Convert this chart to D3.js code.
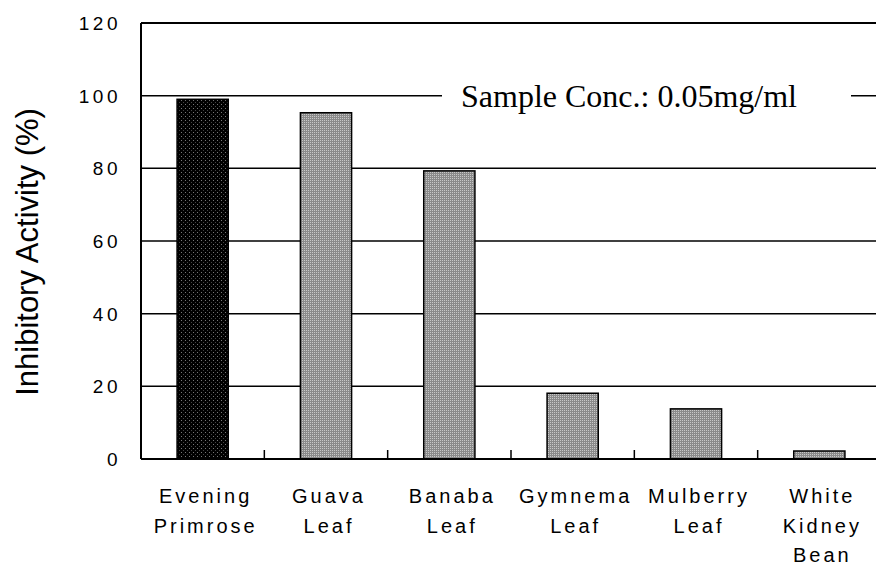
<!DOCTYPE html>
<html>
<head>
    <style>
        body { margin: 0; background: #fff; }
        svg { display: block; }
        .tick-lbl { font-family: 'Liberation Sans', Arial, sans-serif; font-size: 19px; letter-spacing: 3.5px; fill: #000; }
        .cat-lbl { font-family: 'Liberation Sans', Arial, sans-serif; font-size: 20px; letter-spacing: 3px; fill: #000; }
    </style>
    <script src="https://d3js.org/d3.v7.min.js"></script>
</head>
<body>
<div id="chart"></div>
<script>
    // data
    const categories = ['Evening Primrose', 'Guava Leaf', 'Banaba Leaf', 'Gymnema Leaf', 'Mulberry Leaf', 'White Kidney Bean'];
    const labelLines = [['Evening', 'Primrose'], ['Guava', 'Leaf'], ['Banaba', 'Leaf'], ['Gymnema', 'Leaf'], ['Mulberry', 'Leaf'], ['White', 'Kidney', 'Bean']];
    const values = [99.0, 95.3, 79.3, 18.1, 13.8, 2.2];
    const yTicks = [0, 20, 40, 60, 80, 100, 120];
    const note = 'Sample Conc.: 0.05mg/ml';

    const width = 876, height = 566;
    const plotL = 141, plotR = 881, plotT = 23, plotB = 459;

    const svg = d3.select('#chart').append('svg')
            .attr('width', width)
            .attr('height', height);

    const defs = svg.append('defs');
    // dark dotted fill
    const pDark = defs.append('pattern').attr('id', 'dotDark')
            .attr('patternUnits', 'userSpaceOnUse').attr('width', 4).attr('height', 4);
    pDark.append('rect').attr('width', 4).attr('height', 4).attr('fill', '#000');
    pDark.append('rect').attr('x', 1).attr('y', 0).attr('width', 1).attr('height', 1).attr('fill', '#777');
    pDark.append('rect').attr('x', 3).attr('y', 2).attr('width', 1).attr('height', 1).attr('fill', '#444');
    // grey dotted fill
    const pGrey = defs.append('pattern').attr('id', 'dotGrey')
            .attr('patternUnits', 'userSpaceOnUse').attr('width', 2).attr('height', 2);
    pGrey.append('rect').attr('width', 2).attr('height', 2).attr('fill', '#8a8a8a');
    pGrey.append('rect').attr('x', 0).attr('y', 0).attr('width', 1).attr('height', 1).attr('fill', '#c8c8c8');

    const x = d3.scaleBand()
            .domain(categories)
            .range([plotL, plotR])
            .paddingInner(0.585)
            .paddingOuter(0.2925);

    const y = d3.scaleLinear()
            .domain([0, 120])
            .range([plotB, plotT]);

    const step = x.step();
    const gap = (step - x.bandwidth()) / 2;

    // gridlines
    svg.append('g').selectAll('line')
            .data(yTicks.filter(d => d > 0 && d < 120))
            .join('line')
            .attr('x1', plotL).attr('x2', plotR)
            .attr('y1', d => y(d)).attr('y2', d => y(d))
            .attr('stroke', '#000').attr('stroke-width', 1.5);

    // bars
    svg.append('g').selectAll('rect')
            .data(values)
            .join('rect')
            .attr('x', (d, i) => x(categories[i]))
            .attr('y', d => y(d))
            .attr('width', x.bandwidth())
            .attr('height', d => y(0) - y(d))
            .attr('fill', (d, i) => i === 0 ? 'url(#dotDark)' : 'url(#dotGrey)')
            .attr('stroke', '#000').attr('stroke-width', 1.5);

    // note over the 100 gridline
    const noteG = svg.append('g');
    noteG.append('rect')
            .attr('x', 442).attr('y', y(100) - 20)
            .attr('width', 851 - 442).attr('height', 40)
            .attr('fill', '#fff');
    noteG.append('text')
            .attr('x', 461).attr('y', y(100) + 11)
            .style('font-family', "'Liberation Serif', 'Times New Roman', serif")
            .style('font-size', '32px')
            .text(note);

    // frame
    svg.append('line').attr('x1', plotL).attr('x2', plotR).attr('y1', plotT).attr('y2', plotT)
            .attr('stroke', '#000').attr('stroke-width', 2);
    svg.append('line').attr('x1', plotL).attr('x2', plotR).attr('y1', plotB).attr('y2', plotB)
            .attr('stroke', '#000').attr('stroke-width', 2);
    svg.append('line').attr('x1', plotL).attr('x2', plotL).attr('y1', plotT).attr('y2', plotB)
            .attr('stroke', '#000').attr('stroke-width', 2);

    // category separators (ticks pointing up)
    svg.append('g').selectAll('line')
            .data(categories.slice(1))
            .join('line')
            .attr('x1', d => x(d) - gap)
            .attr('x2', d => x(d) - gap)
            .attr('y1', plotB).attr('y2', plotB - 9)
            .attr('stroke', '#000').attr('stroke-width', 1.5);

    // y tick labels
    svg.append('g').selectAll('text')
            .data(yTicks)
            .join('text')
            .attr('class', 'tick-lbl')
            .attr('x', 121)
            .attr('y', d => y(d) + 7)
            .attr('text-anchor', 'end')
            .text(d => d);

    // category labels
    const cat = svg.append('g').selectAll('text')
            .data(labelLines)
            .join('text')
            .attr('class', 'cat-lbl')
            .attr('text-anchor', 'middle');
    cat.selectAll('tspan')
            .data((d, i) => d.map((t, j) => ({t, j, i})))
            .join('tspan')
            .attr('x', d => x(categories[d.i]) + x.bandwidth() / 2 + 3)
            .attr('y', d => 503 + d.j * 29.5)
            .text(d => d.t);

    // y axis title
    svg.append('text')
            .attr('transform', `translate(38, 252) rotate(-90)`)
            .attr('text-anchor', 'middle')
            .style('font-family', "'Liberation Sans', Arial, sans-serif")
            .style('font-size', '31px')
            .text('Inhibitory Activity (%)');
</script>
</body>
</html>
